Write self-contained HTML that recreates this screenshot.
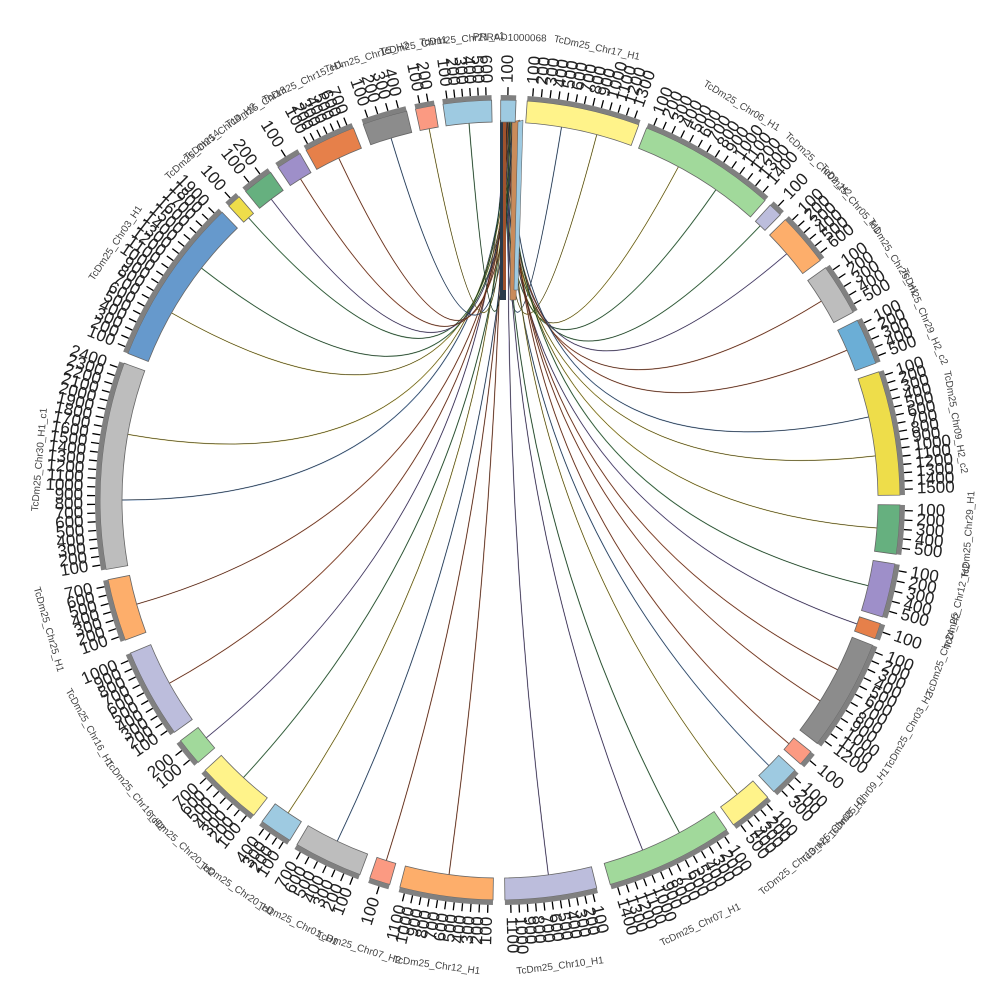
<!DOCTYPE html>
<html><head><meta charset="utf-8"><style>
html,body{margin:0;padding:0;background:#fff;}
svg{display:block}
text{font-family:"Liberation Sans",sans-serif}
</style></head><body>
<svg id="s" width="1000" height="1000" viewBox="0 0 1000 1000" xmlns="http://www.w3.org/2000/svg"></svg>
<script>
const S=document.getElementById('s');
const cx=500,cy=500,R0=378,R1=400,RB=405,RT=413;
const segs=[
[0.1,2.3,'#9ecae1','PRRAD1000068',1],
[3.9,20.3,'#fff38a','TcDm25_Chr17_H1',13],
[21.5,41.5,'#a1d99b','TcDm25_Chr06_H1',14],
[42.5,44.5,'#bcbddc','TcDm25_Chr02_H2',1],
[45.5,53.2,'#fdae6b','TcDm25_Chr05_H1',6],
[54.5,62,'#bdbdbd','TcDm25_Chr25_H1',5],
[63.3,70,'#6baed6','TcDm25_Chr29_H2_c2',5],
[71.3,89.3,'#eedd4a','TcDm25_Chr09_H2_c2',15],
[90.7,97.8,'#66b07f','TcDm25_Chr29_H1',5],
[99.2,107,'#9e8fc9','TcDm25_Chr12_H2',5],
[108,110.3,'#e6804a','TcDm25_Chr24_H2',1],
[111.3,127.5,'#8c8c8c','TcDm25_Chr03_H2',12],
[129,131.3,'#fb9a82','TcDm25_Chr09_H1',1],
[132.5,136.8,'#9ecae1','TcDm25_Chr08_H1',3],
[138,144.3,'#fff38a','TcDm25_Chr13_H1',5],
[145.5,164,'#a1d99b','TcDm25_Chr07_H1',14],
[166,179.3,'#bcbddc','TcDm25_Chr10_H1',11],
[181,194.5,'#fdae6b','TcDm25_Chr12_H1',11],
[196,199,'#fb9a82','TcDm25_Chr07_H2',1],
[200.5,210.5,'#bdbdbd','TcDm25_Chr01_H1',7],
[211.7,216.5,'#9ecae1','TcDm25_Chr20_H1',4],
[218,227.5,'#fff38a','TcDm25_Chr20_H2',7],
[229,233,'#a1d99b','TcDm25_Chr16_H2',2],
[234.5,247.5,'#bcbddc','TcDm25_Chr16_H1',10],
[249.5,258.5,'#fdae6b','TcDm25_Chr25_H1',7],
[260,290,'#bdbdbd','TcDm25_Chr30_H1_c1',24],
[291.5,316,'#6699cc','TcDm25_Chr03_H1',19],
[317.3,319.3,'#eedd4a','TcDm25_Chr14',1],
[320.5,325,'#66b07f','TcDm25_Chr14_H2',2],
[326.3,330,'#9e8fc9','TcDm25_Chr13',1],
[331,338.5,'#e6804a','TcDm25_Chr15_H1',7],
[340,346.5,'#8c8c8c','TcDm25_Chr15_H2',4],
[347.8,350.6,'#fb9a82','TcDm25_Chr11',2],
[351.8,358.8,'#9ecae1','TcDm25_Chr21_c1',6]
];
function P(a,r){const t=a*Math.PI/180;return [cx+r*Math.sin(t),cy-r*Math.cos(t)];}
function arc(a0,a1,r0,r1){const p0=P(a0,r1),p1=P(a1,r1),p2=P(a1,r0),p3=P(a0,r0);const l=(a1-a0)>180?1:0;
return `M${p0}A${r1},${r1} 0 ${l} 1 ${p1}L${p2}A${r0},${r0} 0 ${l} 0 ${p3}Z`;}
let h='';
const lc=['#c0542a','#4a7ab5','#d4c03a','#3a8a4a','#7a6ab0','#c0542a'];
segs.forEach((s,i)=>{if(i==0)return;const n=(s[1]-s[0])>14?2:1;
 for(let k=0;k<n;k++){const sa=0.5+((i*7+k*3)%17)/10;const ta=s[0]+(s[1]-s[0])*(k+1)/(n+1);
 const p=P(sa,R0),q=P(ta,R0);
 h+=`<path d="M${p}Q${cx},${cy} ${q}" fill="none" stroke="${lc[(i+k)%6]}" stroke-width="1.2" opacity="0.7"/>`;
 h+=`<path d="M${p}Q${cx},${cy} ${q}" fill="none" stroke="#111" stroke-width="0.5"/>`;}});
h+=`<rect x="500" y="120" width="6" height="180" fill="#2a3a4a"/><rect x="503" y="120" width="3" height="170" fill="#a0522d"/>`;
h+=`<path d="M512,122 L520,120 L516,300 L510,300Z" fill="#c98b5a" stroke="#555" stroke-width="0.5"/>`;
h+=`<path d="M518,122 L523,120 L518,290 L514,290Z" fill="#9ecae1" stroke="#555" stroke-width="0.5"/>`;
segs.forEach((s,i)=>{
 h+=`<path d="${arc(s[0],s[1],R0,R1)}" fill="${s[2]}" stroke="#666" stroke-width="0.8"/>`;
 h+=`<path d="${arc(s[0],s[1],R1,RB)}" fill="#808080"/>`;
 const n=s[4];const step=(s[1]-s[0])/(n+0.3);
 for(let k=0;k<n;k++){const a=s[0]+step*(k+0.6);const p=P(a,RB),q=P(a,RT);
  h+=`<line x1="${p[0]}" y1="${p[1]}" x2="${q[0]}" y2="${q[1]}" stroke="#000" stroke-width="1.3"/>`;
  const t=P(a,417);const left=a>180;const rot=left?a+90:a-90;
  h+=`<text x="${t[0]}" y="${t[1]}" transform="rotate(${rot} ${t[0]} ${t[1]})" text-anchor="${left?'end':'start'}" dominant-baseline="middle" font-size="17" fill="#222">${(k+1)*100}</text>`;}
 const m=(s[0]+s[1])/2;const flip=m>90&&m<270;const r=flip?470:462;const t=P(m,r);
 h+=`<text x="${t[0]}" y="${t[1]}" transform="rotate(${flip?m-180:m} ${t[0]} ${t[1]})" text-anchor="middle" dominant-baseline="middle" font-size="10" fill="#444">${s[3]}</text>`;
});
S.innerHTML=h;
</script>
</body></html>
